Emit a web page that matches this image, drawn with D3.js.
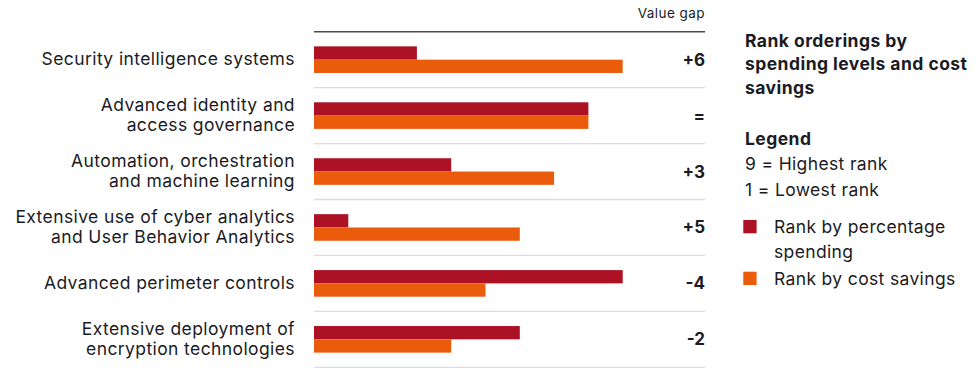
<!DOCTYPE html>
<html>
<head>
<meta charset="utf-8">
<script src="https://cdn.jsdelivr.net/npm/d3@7/dist/d3.min.js"></script>
<style>
  body { margin: 0; background: #fff; }
  svg { display: block; }
  text { font-family: Inter, "Noto Sans", sans-serif; fill: #1b1b24; }
</style>
</head>
<body>
<svg id="chart" width="980" height="372"></svg>
<script>
const categories = [
  ["Security intelligence systems"],
  ["Advanced identity and", "access governance"],
  ["Automation, orchestration", "and machine learning"],
  ["Extensive use of cyber analytics", "and User Behavior Analytics"],
  ["Advanced perimeter controls"],
  ["Extensive deployment of", "encryption technologies"]
];
const spendingRank = [3, 8, 4, 1, 9, 6];
const savingsRank = [9, 8, 7, 6, 5, 4];
const gapLabels = ["+6", "=", "+3", "+5", "-4", "-2"];
const seriesNames = [["Rank by percentage", "spending"], ["Rank by cost savings"]];
const colors = ["#ac1124", "#ea5c0c"];

const svg = d3.select("#chart");

const x = d3.scaleLinear().domain([0, 9]).range([314, 622.7]);
const y = d3.scaleBand().domain(d3.range(categories.length)).range([31.7, 367.3]).paddingInner(0).paddingOuter(0);
const barH = 13.3;

// separators
svg.append("g").selectAll("line").data(d3.range(1, categories.length + 1)).join("line")
  .attr("x1", 314).attr("x2", 705)
  .attr("y1", d => y(d - 1) + y.bandwidth()).attr("y2", d => y(d - 1) + y.bandwidth())
  .attr("stroke", "#dcdcdc").attr("stroke-width", 1.3);
svg.append("line").attr("x1", 314).attr("x2", 705).attr("y1", y(0)).attr("y2", y(0))
  .attr("stroke", "#4a4a4a").attr("stroke-width", 1.5);

svg.append("text").attr("x", 705).attr("y", 18).attr("text-anchor", "end")
  .style("font-size", "13.5px").style("letter-spacing", "0.45px").text("Value gap");

const rows = svg.append("g").selectAll("g").data(categories).join("g")
  .attr("transform", (d, i) => `translate(0,${y(i) + y.bandwidth() / 2})`);

rows.append("rect").attr("x", x(0)).attr("y", -barH)
  .attr("width", (d, i) => x(spendingRank[i]) - x(0)).attr("height", barH).attr("fill", colors[0]);
rows.append("rect").attr("x", x(0)).attr("y", 0)
  .attr("width", (d, i) => x(savingsRank[i]) - x(0)).attr("height", barH).attr("fill", colors[1]);

rows.each(function(d) {
  const t = d3.select(this).append("text").attr("text-anchor", "end")
    .style("font-size", "17.5px").style("letter-spacing", "0.4px");
  const lh = 20;
  const start = -(d.length - 1) * lh / 2 + 5.2;
  d.forEach((line, k) => t.append("tspan").attr("x", 295).attr("y", start + k * lh).text(line));
});

rows.append("text").attr("x", 705).attr("y", 6).attr("text-anchor", "end")
  .style("font-size", "17px").style("font-weight", "700").text((d, i) => gapLabels[i]);

// legend panel
const lg = svg.append("g");
const title = ["Rank orderings by", "spending levels and cost", "savings"];
title.forEach((t, i) => lg.append("text").attr("x", 745).attr("y", 46.5 + i * 23.8)
  .style("font-size", "17.5px").style("font-weight", "700").style("letter-spacing", "0.45px").text(t));
lg.append("text").attr("x", 745).attr("y", 145).style("font-size", "17.5px").style("font-weight", "700")
  .style("letter-spacing", "0.45px").text("Legend");
lg.append("text").attr("x", 745).attr("y", 170).style("font-size", "17.5px").style("letter-spacing", "0.35px").text("9 = Highest rank");
lg.append("text").attr("x", 745).attr("y", 195.5).style("font-size", "17.5px").style("letter-spacing", "0.35px").text("1 = Lowest rank");

const items = [220, 271.7];
seriesNames.forEach((lines, i) => {
  lg.append("rect").attr("x", 743.3).attr("y", items[i]).attr("width", 13.3).attr("height", 13.3).attr("fill", colors[i]);
  lines.forEach((l, k) => lg.append("text").attr("x", 774).attr("y", items[i] + 13 + k * 25)
    .style("font-size", "17.5px").style("letter-spacing", "0.35px").text(l));
});
</script>
</body>
</html>
